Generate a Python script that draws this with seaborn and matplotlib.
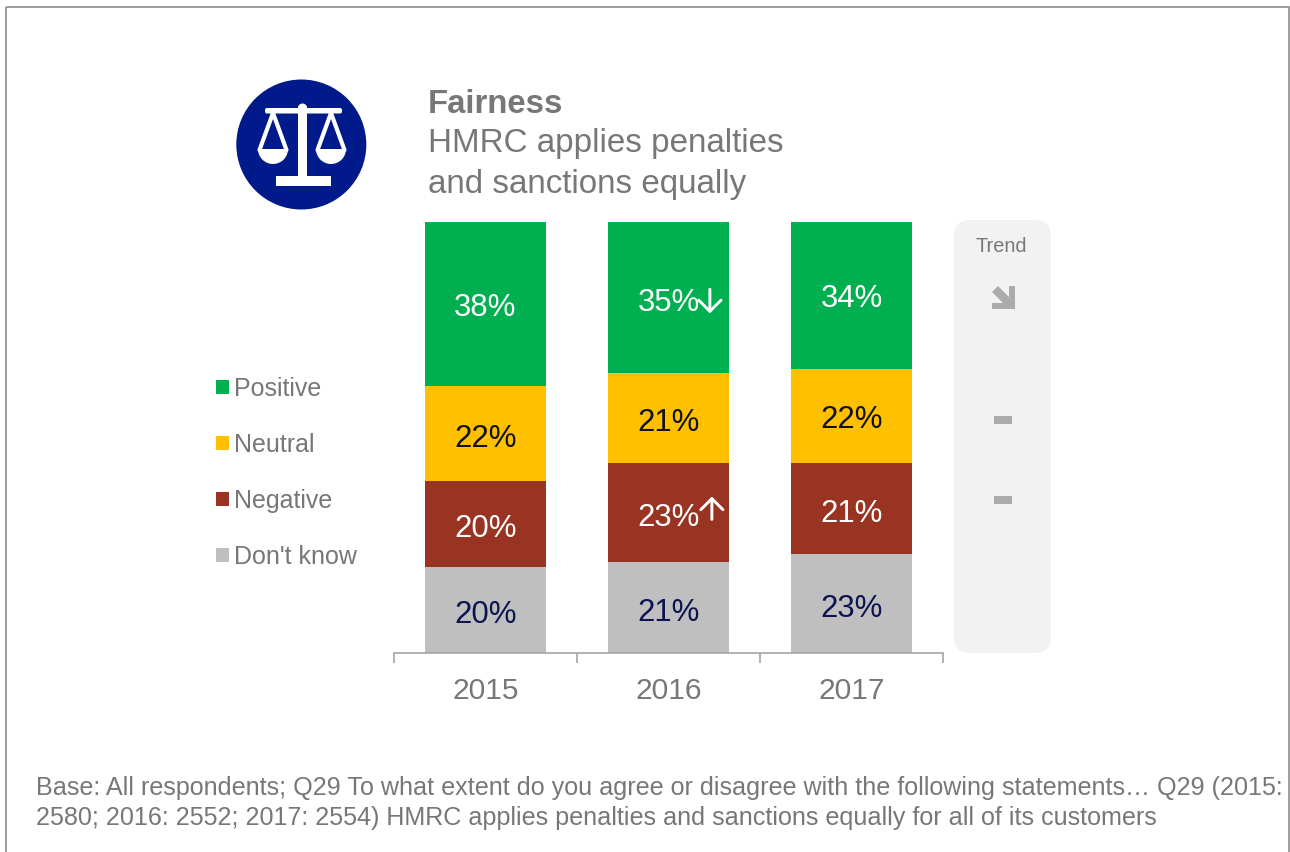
import matplotlib
matplotlib.use("Agg")
import matplotlib.pyplot as plt
from matplotlib.patches import Circle, Rectangle, FancyBboxPatch, Polygon, Wedge, Patch
from matplotlib.lines import Line2D
import seaborn as sns
import pandas as pd

sns.set_style("white")
plt.rcParams['font.family'] = ['Liberation Sans', 'DejaVu Sans']

years = ["2015", "2016", "2017"]
dont_know = [20, 21, 23]
negative = [20, 23, 21]
neutral = [22, 21, 22]
positive = [38, 35, 34]
series_names = ["Don't know", "Negative", "Neutral", "Positive"]
series_values = [dont_know, negative, neutral, positive]
series_colors = ["#BFBFBF", "#993322", "#FFC000", "#00B050"]
label_colors = ["#0B1450", "white", "#111111", "white"]
label_offsets = [[-1.2, -1.3, -1.3], [-1.2, -1.1, -1.3], [-1.3, -1.2, -1.0], [-1.0, -1.3, -0.8]]
# significance arrows: (series, year) -> (x offset, tail y offset, tip y offset) relative to the label
sig_arrows = {(1, 1): (0.237, -0.4, 4.9), (3, 1): (0.226, 3.2, -2.4)}
title = "Fairness"
subtitle = ["HMRC applies penalties", "and sanctions equally"]
footnote = ["Base: All respondents; Q29 To what extent do you agree or disagree with the following statements… Q29 (2015:",
            "2580; 2016: 2552; 2017: 2554) HMRC applies penalties and sanctions equally for all of its customers"]

W, H = 1290, 852
fig = plt.figure(figsize=(W / 100, H / 100), dpi=100, facecolor="white")

# overlay in pixel coordinates for decoration
bg = fig.add_axes([0, 0, 1, 1], zorder=0)
bg.set_xlim(0, W); bg.set_ylim(H, 0); bg.axis("off")
GREY = "#777777"
bg.add_patch(Rectangle((5.5, 6.5), 1283, 860, fill=False, ec="#8C8C8C", lw=1.2))
bg.add_patch(FancyBboxPatch((970, 236), 65, 401, boxstyle="round,pad=16,rounding_size=16",
                            fc="#F2F2F2", ec="none"))

# icon
navy = "#001A8C"
bg.add_patch(Circle((301.3, 144.5), 65, fc=navy, ec="none"))
bg.add_patch(Rectangle((298, 106), 9, 72, fc="white", ec="none"))
bg.add_patch(Circle((302.5, 108), 4.5, fc="white", ec="none"))
bg.add_patch(FancyBboxPatch((267, 110), 73, 1.5, boxstyle="round,pad=2,rounding_size=2", fc="white", ec="none"))
bg.add_patch(Rectangle((276, 176), 55, 10, fc="white", ec="none"))
for cx in (273, 331):
    bg.add_patch(Wedge((cx, 149), 15, 0, 180, fc="white", ec="none"))
    bg.add_line(Line2D([cx - 13.5, cx, cx + 13.5], [150, 113, 150], color="white", lw=3))

# titles
bg.text(428, 113, title, fontsize=23.7, fontweight="bold", color=GREY, va="baseline", ha="left")
bg.text(428, 152, subtitle[0], fontsize=23.9, color=GREY, va="baseline", ha="left")
bg.text(428, 193, subtitle[1], fontsize=23.9, color=GREY, va="baseline", ha="left")

# chart axes
ax = fig.add_axes([394 / W, 1 - 653 / H, (943 - 394) / W, (653 - 222) / H], zorder=2)
ax.patch.set_alpha(0)
bottoms = [0, 0, 0]
for i, (name, vals, col) in enumerate(zip(series_names, series_values, series_colors)):
    df = pd.DataFrame({"year": years, "value": vals})
    sns.barplot(data=df, x="year", y="value", color=col, saturation=1, width=0.665,
                bottom=bottoms, ax=ax, label=name, legend=False, linewidth=0, edgecolor="none")
    for j, v in enumerate(vals):
        y = bottoms[j] + v / 2 + label_offsets[i][j]
        ax.text(j, y, f"{v}%", ha="center", va="center", fontsize=22.4, color=label_colors[i])
        if (i, j) in sig_arrows:
            dx, tail, tip = sig_arrows[(i, j)]
            ax.annotate("", xy=(j + dx, y + tip), xytext=(j + dx, y + tail),
                        arrowprops=dict(arrowstyle="->,head_length=0.5,head_width=0.5", mutation_scale=16,
                                        color="white", lw=2.1, shrinkA=0, shrinkB=0))
    bottoms = [b + v for b, v in zip(bottoms, vals)]

ax.set_xlim(-0.5, 2.5)
ax.set_ylim(0, 100)
ax.set_xlabel(""); ax.set_ylabel("")
ax.set_yticks([])
for s in ("top", "left", "right"):
    ax.spines[s].set_visible(False)
ax.spines["bottom"].set_color("#A6A6A6")
ax.spines["bottom"].set_linewidth(1.2)
ax.set_xticks([0, 1, 2])
ax.set_xticklabels(years, fontsize=21.6, color=GREY)
ax.set_xticks([-0.5, 0.5, 1.5, 2.5], minor=True)
ax.tick_params(axis="x", which="major", length=0, pad=17)
ax.tick_params(axis="x", which="minor", bottom=True, length=7, width=1.2, color="#A6A6A6", direction="out")
ax.grid(False)

# legend
handles = [Patch(fc=c, ec="none", label=n) for n, c in zip(series_names[::-1], series_colors[::-1])]
fig.legend(handles=handles, loc="upper left", bbox_to_anchor=(206 / W, 1 - 367 / H), frameon=False,
           fontsize=18, labelcolor=GREY, handlelength=0.52, handleheight=0.52, handletextpad=0.2,
           labelspacing=1.28, borderpad=0.4, borderaxespad=0)

# trend column
bg.text(1001, 246, "Trend", fontsize=14.4, color=GREY, ha="center", va="center")
TC = "#ABABAB"
bg.add_patch(Polygon([(992, 292), (998, 286), (1009, 297), (1009, 286), (1015, 286), (1015, 309),
                      (992, 309), (992, 303), (1003, 303)], fc=TC, ec="none"))
bg.add_patch(Rectangle((994, 416), 18, 7.5, fc=TC, ec="none"))
bg.add_patch(Rectangle((994, 496), 18, 7.5, fc=TC, ec="none"))

# footnote
bg.text(36, 795, footnote[0], fontsize=18.1, color=GREY, va="baseline", ha="left")
bg.text(36, 825, footnote[1], fontsize=18.1, color=GREY, va="baseline", ha="left")

fig.savefig("out.png", dpi=100, facecolor="white")
